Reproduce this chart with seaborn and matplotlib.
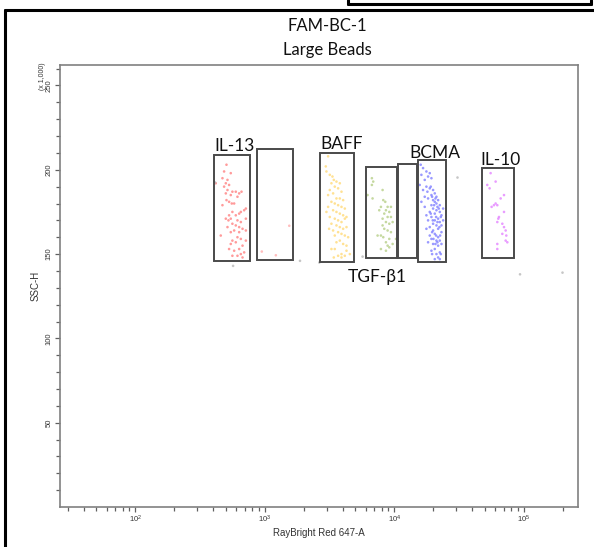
import pandas as pd
import seaborn as sns
import matplotlib.pyplot as plt
from matplotlib.patches import Rectangle
from matplotlib.lines import Line2D
from matplotlib.ticker import FixedLocator, NullFormatter

# Events (x: RayBright Red 647-A, y: SSC-H in thousands)
il13_x = [506, 485, 546, 471, 515, 500, 530, 418, 485, 515, 500, 562, 597, 634, 661, 546, 615, 506, 530, 556,
          580, 471, 714, 693, 653, 634, 597, 562, 530, 500, 524, 546, 615, 653, 714, 562, 597, 634, 673, 580,
          546, 634, 714, 457, 615, 653, 562, 597, 546, 673, 634, 530, 580, 693, 653, 615, 562, 673, 714, 515]
il13_y = [203, 199, 198, 195, 194, 192, 191, 192, 190, 188, 186, 187, 187, 186, 187, 185, 184, 182, 181, 180,
          180, 179, 177, 176, 175, 174, 173, 175, 173, 171, 170, 171, 170, 169, 171, 168, 167, 166, 165, 164,
          163, 163, 164, 161, 160, 159, 158, 157, 156, 155, 153, 153, 152, 151, 150, 149, 149, 148, 158, 166]

empty_x = [948, 1217, 1545]
empty_y = [151.5, 149.3, 166.8]

baff_x = [3082, 2957, 2992, 3175, 3330, 3410, 3575, 3270, 3795, 3470, 3683, 3175, 3082, 3369, 3910, 3575, 3795, 4027, 3270, 3470,
          3683, 3910, 3082, 4149, 3369, 3575, 3795, 4027, 3175, 4274, 3470, 3683, 3910, 4149, 3270, 3575, 3795, 4027, 3369, 4274,
          3683, 3910, 4149, 3470, 4403, 3795, 4027, 3575, 4274, 3270, 3470, 3910, 4149, 3683, 4274, 3410, 3910, 4536, 3137, 2992]
baff_y = [208, 202, 199, 197, 196, 194, 193, 192, 192, 190, 189, 188, 185, 186, 187, 183, 183, 182, 181, 180,
          179, 178, 178, 177, 176, 175, 174, 173, 172, 172, 171, 170, 169, 171, 168, 167, 166, 165, 164, 166,
          163, 162, 161, 161, 160, 158, 156, 157, 155, 153, 153, 150, 149, 149, 152, 148, 148, 150, 165, 175]

tgf_x = [6714, 6876, 6714, 6216, 6795, 8121, 8219, 8517, 7883, 8879, 9423, 7653, 8619, 9147, 8366, 8879, 8121, 9423,
         8619, 9707, 9147, 8121, 8366, 8879, 9423, 7428, 7883, 8219, 9147, 8619, 9707, 10302, 7883, 8619, 9147, 8879]
tgf_y = [195, 193, 191, 185, 183, 188, 182, 181, 178, 178, 178, 176, 176, 175, 174, 172, 171, 172,
         169, 169, 168, 167, 165, 164, 163, 161, 161, 160, 159, 157, 156, 159, 153, 152, 154, 155]

bcma_x = [15995, 16676, 17698, 18783, 16188, 18233, 19350, 17180, 15713, 17698, 18783, 19935, 16676, 20537, 19350, 21156,
          18233, 19935, 21798, 20537, 21156, 22455, 19350, 17180, 19935, 21156, 18783, 22455, 20537, 23133, 17698, 19350,
          21798, 20537, 18233, 22455, 19935, 23133, 21156, 18783, 21798, 17698, 19935, 23133, 20537, 18783, 21798, 19350,
          21156, 22455, 19935, 18233, 21798, 20537, 19350, 22455, 21156, 21798, 20537, 22455, 17180, 16188, 23823, 23823,
          19122, 18015, 19583, 20784, 21539, 20296, 22056, 19122, 21034, 22857, 19818, 21539, 22321, 19583, 21034, 22590,
          20055, 21539, 23133, 20784, 19583, 22857]
bcma_y = [203, 201, 199, 198, 197, 196, 195, 194, 191, 190, 189, 188, 188, 186, 185, 184,
          183, 182, 182, 181, 180, 179, 179, 178, 177, 176, 175, 175, 174, 173, 173, 172,
          171, 170, 170, 169, 168, 167, 167, 166, 165, 165, 164, 163, 162, 161, 160, 159,
          158, 158, 156, 157, 155, 153, 152, 151, 150, 148, 147, 147, 184, 181, 170, 177,
          190, 187, 184, 183, 178, 179, 177, 174, 172, 172, 170, 169, 166, 163, 161, 161,
          159, 157, 156, 156, 150, 150]

il10_x = [55430, 60600, 52230, 54440, 66260, 70330, 60600, 62430, 58830, 56420, 70330, 64310, 63560, 62430, 68270,
          70330, 72420, 68270, 73280, 72420, 74600, 62430, 62430]
il10_y = [198, 193, 191, 189, 183, 185, 180, 179, 179, 178, 175, 172, 171, 169, 168,
          166, 164, 162, 161, 158, 157, 156, 153]

other_x = [413, 569, 1870, 2636, 30760, 93500, 5690, 199000]
other_y = [192.5, 143, 146, 145, 195.4, 138, 148.5, 139]

# Gates: name, x-min, x-max, y-min, y-max
gate_names = ['IL-13', 'empty', 'BAFF', 'TGF-β1', 'mid', 'BCMA', 'IL-10']
gate_x0 = [405, 865, 2685, 6000, 10610, 15170, 47200]
gate_x1 = [767, 1641, 4921, 10540, 15000, 25140, 84560]
gate_y0 = [146.0, 146.6, 145.2, 147.9, 147.6, 145.6, 147.9]
gate_y1 = [208.6, 212.2, 210.2, 201.4, 203.5, 205.7, 201.1]

label_text = ['IL-13', 'BAFF', 'TGF-β1', 'BCMA', 'IL-10']
label_x = [405, 2673, 4406, 13090, 46450]
label_y = [214, 215, 136.5, 210, 206]

frames = []
for name, xs, ys in [('IL-13', il13_x, il13_y), ('empty', empty_x, empty_y), ('BAFF', baff_x, baff_y),
                     ('TGF-β1', tgf_x, tgf_y), ('BCMA', bcma_x, bcma_y), ('IL-10', il10_x, il10_y),
                     ('other', other_x, other_y)]:
    frames.append(pd.DataFrame({'x': xs, 'y': ys, 'pop': name}))
events = pd.concat(frames, ignore_index=True)

palette = {'IL-13': '#ff7a7a', 'empty': '#ffa8a8', 'BAFF': '#ffd870', 'TGF-β1': '#b2cc80',
           'BCMA': '#7878ff', 'IL-10': '#e27cff', 'other': '#b4b4b4'}

sns.set_style('white')
plt.rcParams['font.family'] = ['Liberation Sans', 'DejaVu Sans']

fig = plt.figure(figsize=(5.94, 5.47), dpi=100)
ax = fig.add_axes([60 / 594, 1 - 507 / 547, (578 - 60) / 594, (507 - 65) / 547])

sns.scatterplot(data=events, x='x', y='y', hue='pop', palette=palette, s=3.5, linewidth=0,
                alpha=0.75, legend=False, ax=ax)

ax.set_xscale('log')
ax.set_xlim(26.2144, 262144)
ax.set_ylim(0, 262.144)

for x0, x1, y0, y1 in zip(gate_x0, gate_x1, gate_y0, gate_y1):
    ax.add_patch(Rectangle((x0, y0), x1 - x0, y1 - y0, fill=False, edgecolor='#4a4a4a', linewidth=1.4))

for t, lx, ly in zip(label_text, label_x, label_y):
    ax.text(lx, ly, t, ha='left', va='center', fontsize=12.5, family=['Lato', 'DejaVu Sans'], color='#111111')

# axes styling
for sp in ax.spines.values():
    sp.set_color('#808080')
    sp.set_linewidth(1.2)
ax.yaxis.set_major_locator(FixedLocator([50, 100, 150, 200, 250]))
ax.yaxis.set_minor_locator(FixedLocator([v for v in range(10, 261, 10) if v % 50]))
ax.yaxis.set_minor_formatter(NullFormatter())
ax.tick_params(axis='both', which='both', direction='out', color='#606060', labelsize=5.5,
               labelcolor='#333333', left=True, bottom=True)
ax.tick_params(axis='both', which='major', length=3.6, width=0.9, pad=1.5)
ax.tick_params(axis='both', which='minor', length=2.6, width=0.9)
for lab in ax.get_yticklabels():
    lab.set_rotation(90)
    lab.set_va('center')

ax.set_xlabel('RayBright Red 647-A', fontsize=7, color='#333333', labelpad=2)
ax.set_ylabel('SSC-H', fontsize=7, color='#333333', labelpad=4)
fig.text(42 / 594, 1 - 76 / 547, '(x 1,000)', rotation=90, ha='center', va='center', fontsize=5, color='#333333')

fig.text(327 / 594, 1 - 26 / 547, 'FAM-BC-1', ha='center', va='center', fontsize=12,
         family=['Lato', 'DejaVu Sans'], color='#111111')
fig.text(327 / 594, 1 - 50 / 547, 'Large Beads', ha='center', va='center', fontsize=12,
         family=['Lato', 'DejaVu Sans'], color='#111111')

# black frame around the exported panel
fig.add_artist(Line2D([5 / 594, 5 / 594], [0, 1 - 10 / 547], color='black', linewidth=2.2))
fig.add_artist(Line2D([5 / 594, 1], [1 - 10 / 547, 1 - 10 / 547], color='black', linewidth=2.2))
fig.add_artist(Line2D([348 / 594, 591 / 594], [1 - 4 / 547, 1 - 4 / 547], color='black', linewidth=2.2))
fig.add_artist(Line2D([348 / 594, 348 / 594], [1 - 4 / 547, 1], color='black', linewidth=2.2))
fig.add_artist(Line2D([591 / 594, 591 / 594], [1 - 4 / 547, 1], color='black', linewidth=2.2))

fig.savefig('out.png', dpi=100)
